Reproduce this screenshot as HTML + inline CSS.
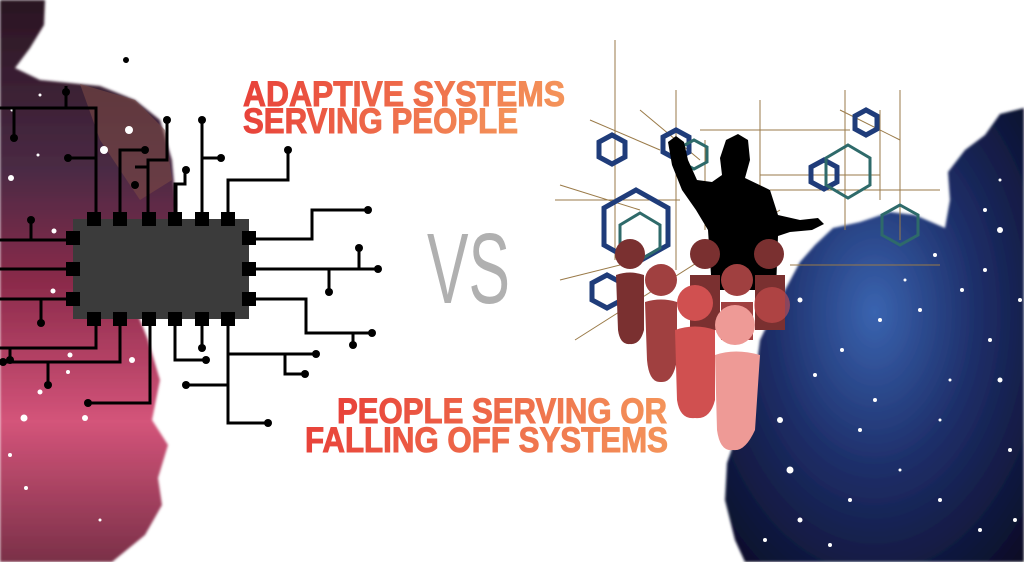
<!DOCTYPE html>
<html><head><meta charset="utf-8"><style>
html,body{margin:0;padding:0;background:#fff;}
svg{display:block}
</style></head><body>
<svg width="1024" height="562" viewBox="0 0 1024 562" xmlns="http://www.w3.org/2000/svg">
<defs>
<linearGradient id="lg" x1="0" y1="0" x2="0" y2="1">
<stop offset="0" stop-color="#2a1522"/><stop offset="0.3" stop-color="#4a2a44"/><stop offset="0.5" stop-color="#8a2a4a"/><stop offset="0.75" stop-color="#d4547a"/><stop offset="1" stop-color="#7a3048"/>
</linearGradient>
<radialGradient id="rg" cx="0.5" cy="0.45" r="0.75">
<stop offset="0" stop-color="#3a64b0"/><stop offset="0.45" stop-color="#1e2f6a"/><stop offset="1" stop-color="#080a22"/>
</radialGradient>
<linearGradient id="tg" x1="0" y1="0" x2="1" y2="0">
<stop offset="0" stop-color="#e8423a"/><stop offset="1" stop-color="#f4945a"/>
</linearGradient>
<filter id="bl"><feGaussianBlur stdDeviation="1.2"/></filter>
</defs>
<!-- left blob -->
<path d="M0,0 L45,0 L44,25 L30,48 L15,68 L40,80 L80,84 L100,86 L135,100 L160,120 L172,160 L176,205 L170,250 L140,290 L132,300 L148,340 L160,380 L152,420 L168,445 L158,478 L162,505 L145,535 L112,562 L0,562 Z" fill="url(#lg)" filter="url(#bl)"/>
<path d="M80,84 L135,100 L165,130 L172,180 L140,200 L100,140 Z" fill="#7a4a44" opacity="0.6"/>
<!-- right blob -->
<path d="M1024,108 L1000,114 L985,135 L965,150 L948,172 L950,200 L945,228 L915,215 L890,212 L860,222 L833,228 L815,245 L800,262 L785,290 L773,313 L760,340 L757,363 L748,390 L747,413 L735,440 L727,463 L725,500 L735,540 L745,562 L1024,562 Z" fill="url(#rg)" filter="url(#bl)"/>
<!-- stars -->
<g fill="#fff">
<circle cx="12" cy="110" r="1.5"/><circle cx="40" cy="95" r="1.5"/><circle cx="11" cy="178" r="3"/><circle cx="38" cy="155" r="1.5"/><circle cx="54" cy="231" r="2.5"/><circle cx="53" cy="291" r="2.5"/><circle cx="70" cy="355" r="2.5"/><circle cx="132" cy="360" r="3"/><circle cx="40" cy="392" r="2.5"/><circle cx="24" cy="418" r="3.5"/><circle cx="85" cy="418" r="3"/><circle cx="104" cy="150" r="4"/><circle cx="129" cy="130" r="4"/><circle cx="10" cy="455" r="2"/><circle cx="26" cy="488" r="2"/><circle cx="68" cy="372" r="2"/><circle cx="100" cy="520" r="1.5"/>
<circle cx="1000" cy="180" r="1.5"/><circle cx="985" cy="210" r="2"/><circle cx="1000" cy="230" r="3"/><circle cx="985" cy="270" r="2"/><circle cx="935" cy="255" r="2"/><circle cx="1020" cy="300" r="2"/><circle cx="920" cy="310" r="2"/><circle cx="880" cy="320" r="2"/><circle cx="990" cy="340" r="2"/><circle cx="1000" cy="380" r="2.5"/><circle cx="950" cy="380" r="1.5"/><circle cx="875" cy="400" r="2"/><circle cx="860" cy="430" r="2"/><circle cx="815" cy="375" r="2"/><circle cx="780" cy="420" r="3"/><circle cx="790" cy="470" r="3.5"/><circle cx="800" cy="520" r="2.5"/><circle cx="850" cy="500" r="2"/><circle cx="900" cy="470" r="1.5"/><circle cx="940" cy="500" r="2"/><circle cx="1010" cy="450" r="2"/><circle cx="980" cy="530" r="2"/><circle cx="1015" cy="520" r="2"/><circle cx="830" cy="545" r="2"/><circle cx="765" cy="540" r="2"/><circle cx="940" cy="420" r="1.5"/><circle cx="962" cy="290" r="2"/><circle cx="905" cy="280" r="1.5"/><circle cx="842" cy="350" r="2"/><circle cx="800" cy="300" r="2.5"/>
</g>
<!-- hex network -->
<g fill="none" stroke="#9a7a48" stroke-width="1">
<path d="M615,40 V260 M676,90 V270 M705,140 V230 M760,100 V250 M845,90 V230 M880,110 V200 M900,90 V240 M555,200 H680 M700,130 H850 M760,175 H880 M770,190 H940 M575,340 L780,210 M560,280 L640,260 M560,185 L640,210 M590,120 L660,150 M640,110 L700,160 M840,110 L900,140 M790,265 H940"/>
</g>
<g fill="none" stroke="#1f3c7a" stroke-width="5">
<polygon points="612,135 625,142 625,157 612,164 599,157 599,142"/>
<polygon points="676,130 689,137 689,152 676,159 663,152 663,137"/>
<polygon points="866,110 877,116 877,129 866,135 855,129 855,116"/>
<polygon points="824,160 837,167 837,182 824,189 811,182 811,167"/>
<polygon points="636,190 668,208 668,245 636,263 604,245 604,208"/>
<polygon points="607,275 622,283 622,300 607,308 592,300 592,283"/>
</g>
<g fill="none" stroke="#2e6a6a" stroke-width="3">
<polygon points="694,140 707,147 707,162 694,169 681,162 681,147"/>
<polygon points="848,145 870,158 870,185 848,198 826,185 826,158"/>
<polygon points="640,213 660,225 660,248 640,260 620,248 620,225"/>
<polygon points="900,205 918,215 918,235 900,245 882,235 882,215"/>
</g>
<!-- presenter -->
<path d="M668,142 L676,136 L684,142 L688,160 L697,180 L712,182 L722,175 L720,158 L726,140 L738,134 L748,140 L750,160 L745,178 L770,190 L778,215 L800,220 L818,218 L824,224 L812,230 L790,232 L778,236 L776,290 L712,290 L708,230 L696,210 L682,190 L672,165 Z" fill="#000"/>
<!-- people -->
<g>
<circle cx="630" cy="254" r="15" fill="#7a3030"/><path d="M616,275 Q630,270 644,275 L644,330 Q640,345 630,344 Q620,345 618,330 Z" fill="#7a3030"/>
<circle cx="705" cy="254" r="15" fill="#7a3030"/><path d="M690,275 L720,275 L720,330 L690,330 Z" fill="#7a3030"/>
<circle cx="769" cy="254" r="15" fill="#7a3030"/><path d="M755,275 L785,275 L785,330 L755,330 Z" fill="#7a3030"/>
<circle cx="661" cy="280" r="16" fill="#a04040"/><path d="M645,302 Q661,297 677,302 L677,360 Q673,383 661,382 Q649,383 647,360 Z" fill="#a04040"/>
<circle cx="737" cy="280" r="16" fill="#a04040"/><path d="M721,302 L753,302 L753,340 L721,340 Z" fill="#a04040"/>
<circle cx="695" cy="303" r="18" fill="#d05050"/><path d="M675,330 Q695,323 715,330 L715,400 Q710,420 695,418 Q680,420 677,400 Z" fill="#d05050"/>
<circle cx="772" cy="305" r="18" fill="#d05050" opacity="0.6"/>
<circle cx="735" cy="325" r="20" fill="#ee9a96"/><path d="M715,355 Q735,348 760,355 L755,430 Q745,452 733,450 Q720,452 717,430 Z" fill="#ee9a96"/>
</g>
<!-- circuit -->
<g stroke="#000" stroke-width="3" fill="none">
<path d="M0,108 H96 V219 M66,108 V86 M14,108 V138 M96,158 H68"/>
<path d="M120,219 V150 H145 M148,179 V167 H135 M148,167 V160 H167 V120 M148,219 V160"/>
<path d="M175,219 V184 H185 V172 M176,219 V185"/>
<path d="M202,219 V120 M202,158 H221"/>
<path d="M228,219 V180 H288 V150"/>
<path d="M0,240 H70 M31,240 V220 M0,269 H70 M0,299 H70 M41,299 V323"/>
<path d="M96,319 V348 H0 M10,348 V360 M120,319 V362 H3 M48,362 V385 M150,319 V403 H88"/>
<path d="M175,319 V360 H206 M202,319 V348"/>
<path d="M228,319 V423 H268 M228,354 H316 M285,354 V374 H305 M228,385 H186"/>
<path d="M249,239 H312 V210 H368 M249,269 H378 M329,269 V292 M359,269 V248 M249,299 H306 V333 H372 M353,333 V345"/>
</g>
<g fill="#000">
<circle cx="66" cy="92" r="4"/><circle cx="14" cy="138" r="4"/><circle cx="68" cy="158" r="4"/><circle cx="145" cy="150" r="4"/><circle cx="135" cy="185" r="4"/><circle cx="167" cy="120" r="4"/><circle cx="186" cy="170" r="4"/><circle cx="202" cy="120" r="4"/><circle cx="221" cy="158" r="4"/><circle cx="288" cy="150" r="4"/><circle cx="126" cy="60" r="3"/>
<circle cx="31" cy="220" r="4"/><circle cx="41" cy="323" r="4"/><circle cx="10" cy="360" r="4"/><circle cx="3" cy="362" r="4"/><circle cx="48" cy="385" r="4"/><circle cx="88" cy="403" r="4"/><circle cx="206" cy="360" r="4"/><circle cx="202" cy="348" r="4"/><circle cx="268" cy="423" r="4"/><circle cx="316" cy="354" r="4"/><circle cx="305" cy="374" r="4"/><circle cx="186" cy="385" r="4"/>
<circle cx="368" cy="210" r="4"/><circle cx="378" cy="269" r="4"/><circle cx="329" cy="292" r="4"/><circle cx="359" cy="248" r="4"/><circle cx="372" cy="333" r="4"/><circle cx="353" cy="345" r="4"/>
</g>
<rect x="73" y="219" width="176" height="100" fill="#3b3b3b"/>
<g fill="#000">
<rect x="87" y="212" width="14" height="14"/><rect x="113" y="212" width="14" height="14"/><rect x="142" y="212" width="14" height="14"/><rect x="168" y="212" width="14" height="14"/><rect x="195" y="212" width="14" height="14"/><rect x="221" y="212" width="14" height="14"/>
<rect x="87" y="312" width="14" height="14"/><rect x="113" y="312" width="14" height="14"/><rect x="142" y="312" width="14" height="14"/><rect x="168" y="312" width="14" height="14"/><rect x="195" y="312" width="14" height="14"/><rect x="221" y="312" width="14" height="14"/>
<rect x="66" y="231" width="14" height="14"/><rect x="66" y="262" width="14" height="14"/><rect x="66" y="292" width="14" height="14"/>
<rect x="242" y="231" width="14" height="14"/><rect x="242" y="262" width="14" height="14"/><rect x="242" y="292" width="14" height="14"/>
</g>
<!-- texts -->
<g font-family="Liberation Sans, sans-serif" font-weight="bold" fill="url(#tg)" font-size="35" stroke="url(#tg)" stroke-width="1">
<text x="243" y="106" textLength="322" lengthAdjust="spacingAndGlyphs">ADAPTIVE SYSTEMS</text>
<text x="243" y="133" textLength="275" lengthAdjust="spacingAndGlyphs">SERVING PEOPLE</text>
<text x="337" y="423" textLength="330" lengthAdjust="spacingAndGlyphs">PEOPLE SERVING OR</text>
<text x="305" y="452" textLength="363" lengthAdjust="spacingAndGlyphs">FALLING OFF SYSTEMS</text>
</g>
<text x="427" y="303" font-family="Liberation Sans, sans-serif" font-size="100" fill="#b0b0b0" textLength="83" lengthAdjust="spacingAndGlyphs">VS</text>
</svg>
</body></html>
